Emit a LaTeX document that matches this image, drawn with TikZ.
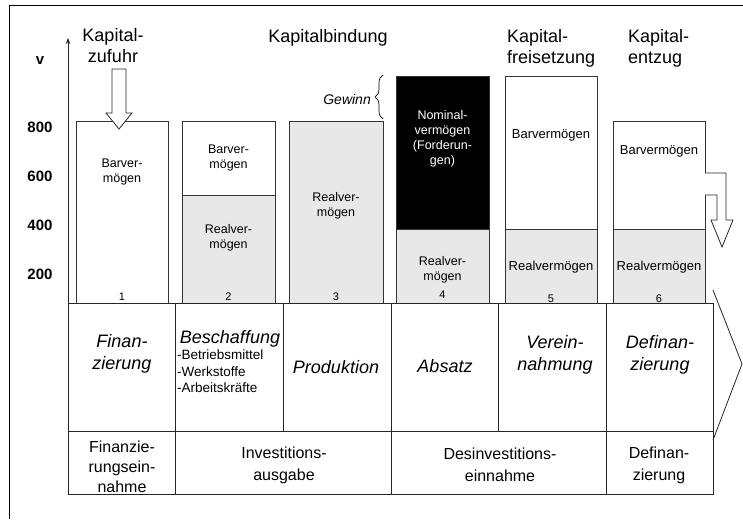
\documentclass[tikz,border=0pt]{standalone}
\usepackage{fontspec}
\setmainfont{Liberation Sans}
\usetikzlibrary{arrows.meta,decorations.pathreplacing}

\begin{document}
\begin{tikzpicture}[
  x=1pt,y=-1pt,
  bar/.style={draw=black!80, line width=0.7pt, fill=white},
  realbar/.style={bar, fill=black!9},
  nombar/.style={bar, fill=black},
  rule/.style={draw=black!85, line width=0.8pt},
  hollow/.style={rule, fill=white, line join=miter},
  stock/.style={font=\fontsize{12.5}{15}\selectfont, align=center, inner sep=0pt},
  stockwide/.style={font=\fontsize{13}{15}\selectfont, inner sep=0pt},
  nr/.style={font=\fontsize{11}{13}\selectfont, inner sep=0pt, anchor=base},
  phase/.style={font=\fontsize{18}{22}\selectfont\itshape, align=center, inner sep=0pt},
  item/.style={font=\fontsize{13.5}{16.5}\selectfont, align=left, inner sep=0pt},
  flow/.style={font=\fontsize{16}{22}\selectfont, align=center, inner sep=0pt},
  stage/.style={font=\fontsize{18}{21}\selectfont, inner sep=0pt},
  axislabel/.style={font=\fontsize{15}{18}\selectfont\bfseries, inner sep=0pt}
]
\useasboundingbox (0,0) rectangle (743,519);
\draw[line width=0.8pt] (9,519) -- (9,5) -- (743,5);

\node[stage, align=center] (zufuhr) at (113,46) {Kapital-\\zufuhr};
\node[stage, anchor=base] (bindung) at (328,42) {Kapitalbindung};
\node[stage, align=left, anchor=west] (freisetzung) at (507,48) {Kapital-\\freisetzung};
\node[stage, align=left, anchor=west] (entzug) at (628,48) {Kapital-\\entzug};

\coordinate (origin) at (68,303);
\coordinate (vtop) at (68,38);
\draw[rule, -{Stealth[length=6pt,width=4.5pt]}] (origin) -- (vtop);
\node[axislabel] (v) at (40,61) {v};
\foreach \val/\y in {800/127,600/176,400/225,200/274}
  \node[axislabel] (tick\val) at (40,\y) {\val};

\draw[bar] (76,121) rectangle (168,303);
\draw[bar] (182,121) rectangle (275,195);
\draw[realbar] (182,195) rectangle (275,303);
\draw[realbar] (289,121) rectangle (383,303);
\draw[nombar] (396,76) rectangle (489,229);
\draw[realbar] (396,229) rectangle (489,303);
\draw[bar] (505,76) rectangle (597,229);
\draw[realbar] (505,229) rectangle (597,303);
\draw[bar] (613,121) rectangle (705,229);
\draw[realbar] (613,229) rectangle (705,303);

\node[stock] (bar1) at (122,172) {Barver-\\mögen};
\node[stock] (bar2a) at (228.5,157.5) {Barver-\\mögen};
\node[stock] (bar2b) at (228.5,238) {Realver-\\mögen};
\node[stock] (bar3) at (336,206) {Realver-\\mögen};
\node[stock, text=white] (bar4a) at (442.5,138.5) {Nominal-\\vermögen\\(Forderun-\\gen)};
\node[stock] (bar4b) at (442.5,270) {Realver-\\mögen};
\node[stockwide] (bar5a) at (551,135) {Barvermögen};
\node[stockwide] (bar5b) at (551,267) {Realvermögen};
\node[stockwide] (bar6a) at (659,151) {Barvermögen};
\node[stockwide] (bar6b) at (659,267) {Realvermögen};

\node[nr] (n1) at (122,300) {1};
\node[nr] (n2) at (228.5,300) {2};
\node[nr] (n3) at (336,300) {3};
\node[nr] (n4) at (442.5,298) {4};
\node[nr] (n5) at (551,302) {5};
\node[nr] (n6) at (659,302) {6};

\draw[decorate, decoration={brace, amplitude=8pt}, line width=0.7pt] (383,119) -- (383,75);
\node[font=\fontsize{14}{16}\selectfont\itshape, inner sep=0pt, anchor=east] (gewinn) at (371,99) {Gewinn};

\draw[hollow] (112,69) -- (126,69) -- (126,113) -- (132,113) -- (119,129)
  -- (106,113) -- (112,113) -- cycle;
\draw[hollow] (705,173) -- (726,173) -- (726,220) -- (733,220) -- (722,247)
  -- (711,220) -- (717,220) -- (717,195) -- (705,195);

\draw[rule] (68,303) rectangle (713,494);
\draw[rule] (68,431) -- (713,431);
\foreach \x in {175,283,391,498,606}
  \draw[rule] (\x,303) -- (\x,431);
\foreach \x in {175,391,606}
  \draw[rule] (\x,431) -- (\x,494);
\draw[rule] (713,290) -- (742,364) -- (713,440);

\node[phase] (finanzierung) at (122,354) {Finan-\\zierung};
\node[phase, anchor=base] (beschaffung) at (230,343) {Beschaffung};
\node[item, anchor=north west] (mittel) at (177,350) {-Betriebsmittel\\-Werkstoffe\\-Arbeitskräfte};
\node[phase, anchor=base] (produktion) at (336,373) {Produktion};
\node[phase, anchor=base] (absatz) at (445,372) {Absatz};
\node[phase] (vereinnahmung) at (555,355) {Verein-\\nahmung};
\node[phase] (definanzierung) at (660,355) {Definan-\\zierung};

\node[flow, font=\fontsize{16}{20}\selectfont] (einnahme) at (122,466.5) {Finanzie-\\rungsein-\\nahme};
\node[flow] (ausgabe) at (284,465.5) {Investitions-\\ausgabe};
\node[flow] (desinv) at (500,465) {Desinvestitions-\\einnahme};
\node[flow] (definanz) at (659,465) {Definan-\\zierung};
\end{tikzpicture}
\end{document}
